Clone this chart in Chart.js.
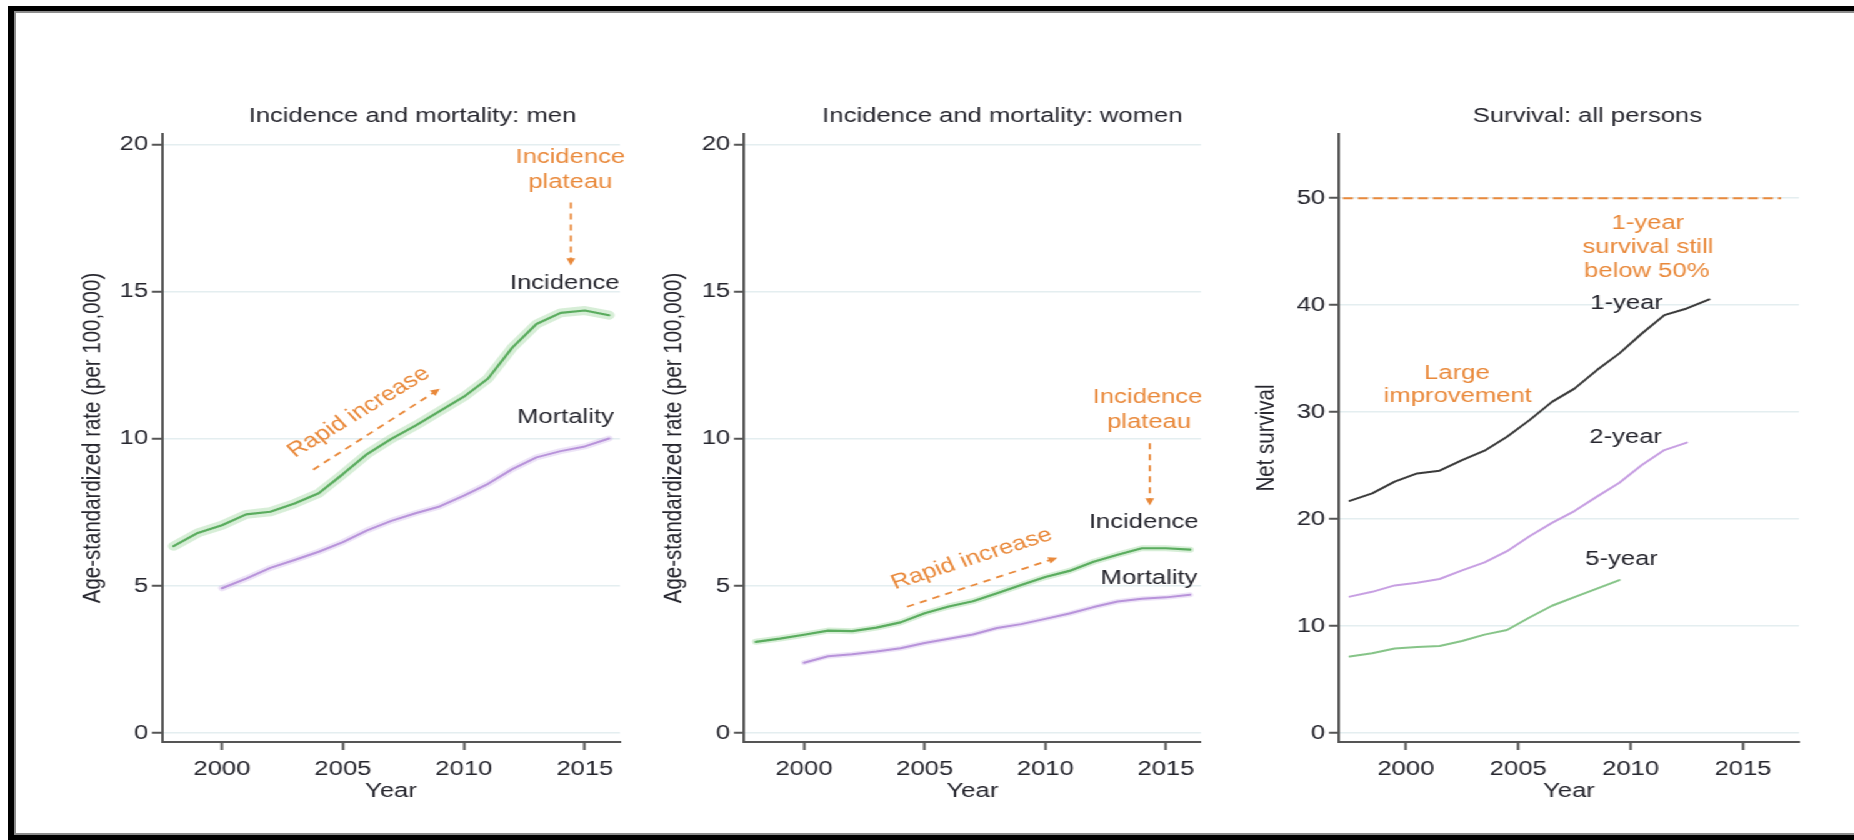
<!DOCTYPE html>
<html lang="fr">
<head>
<meta charset="utf-8">
<title>Incidence, mortalité et survie</title>
<script src="https://cdn.jsdelivr.net/npm/chart.js@4.4.1/dist/chart.umd.min.js"></script>
<style>
  html, body { margin: 0; padding: 0; background: #fff; overflow: hidden; }
  /* la figure d'origine est étirée horizontalement : on reproduit l'effet */
  #graphes { position: absolute; left: 0; top: 0; width: 1484px; height: 840px;
             transform: scaleX(1.25); transform-origin: 0 0; }
  #graphes canvas { position: absolute; top: 0; }
  #cadre { position: absolute; left: 8px; top: 6px; width: 1870px; height: 834px; box-sizing: border-box;
           border: 5px solid #000; border-left-width: 6px; box-shadow: inset 0 0 0 2px #8c8c8c; pointer-events: none; }
</style>
</head>
<body>
<div id="graphes">
  <canvas id="hommes" width="508" height="840" style="left:0px"></canvas>
  <canvas id="femmes" width="482" height="840" style="left:508px"></canvas>
  <canvas id="survie" width="494" height="840" style="left:990px"></canvas>
</div>
<div id="cadre"></div>
<script>
// Données
const anneesIncidence = [1998, 1999, 2000, 2001, 2002, 2003, 2004, 2005, 2006, 2007, 2008, 2009, 2010, 2011, 2012, 2013, 2014, 2015, 2016];
const anneesMortalite = [2000, 2001, 2002, 2003, 2004, 2005, 2006, 2007, 2008, 2009, 2010, 2011, 2012, 2013, 2014, 2015, 2016];
const incidenceHommes = [6.35, 6.8, 7.06, 7.43, 7.52, 7.8, 8.15, 8.8, 9.48, 10.0, 10.45, 10.94, 11.43, 12.05, 13.1, 13.9, 14.28, 14.36, 14.2];
const mortaliteHommes = [4.92, 5.25, 5.61, 5.88, 6.16, 6.49, 6.89, 7.21, 7.47, 7.7, 8.07, 8.47, 8.97, 9.37, 9.58, 9.74, 10.01];
const incidenceFemmes = [3.1, 3.21, 3.34, 3.48, 3.46, 3.58, 3.76, 4.07, 4.3, 4.48, 4.75, 5.03, 5.3, 5.51, 5.82, 6.06, 6.28, 6.28, 6.23];
const mortaliteFemmes = [2.39, 2.61, 2.68, 2.77, 2.88, 3.06, 3.2, 3.35, 3.57, 3.7, 3.88, 4.06, 4.28, 4.47, 4.56, 4.61, 4.7];

const anneesSurvie = [1997.5, 1998.5, 1999.5, 2000.5, 2001.5, 2002.5, 2003.5, 2004.5, 2005.5, 2006.5, 2007.5, 2008.5, 2009.5, 2010.5, 2011.5, 2012.5, 2013.5];
const survie1an = [21.7, 22.4, 23.5, 24.27, 24.52, 25.51, 26.39, 27.7, 29.25, 30.96, 32.2, 33.93, 35.49, 37.35, 39.07, 39.69, 40.53];
const survie2ans = [12.75, 13.2, 13.8, 14.05, 14.4, 15.2, 15.95, 17.0, 18.4, 19.65, 20.75, 22.1, 23.4, 25.05, 26.45, 27.15];
const survie5ans = [7.15, 7.45, 7.9, 8.05, 8.13, 8.6, 9.2, 9.63, 10.8, 11.9, 12.7, 13.5, 14.3];
const seuilAnnees = [1997.2, 2016.7];
const seuilValeurs = [50, 50];

const ticksAnnees = [2000, 2005, 2010, 2015];
const ticksTaux = [0, 5, 10, 15, 20];
const ticksSurvie = [0, 10, 20, 30, 40, 50];

// Couleurs
const vert = '#5aac5e';
const bandeVert = 'rgba(140, 205, 140, 0.35)';
const violet = '#b893da';
const bandeViolet = 'rgba(195, 165, 228, 0.3)';
const orange = '#e9893b';
const encre = '#26262e';

const police = '"Liberation Sans", Arial, sans-serif';
Chart.defaults.font.family = police;
Chart.defaults.font.size = 20.5;
Chart.defaults.color = encre;

function pts(xs, ys) {
  return ys.map((v, i) => ({ x: xs[i], y: v }));
}

function ligne(data, couleur, epaisseur, ordre, pointilles) {
  return {
    data: data,
    borderColor: couleur,
    borderWidth: epaisseur,
    borderDash: pointilles || [],
    order: ordre,
    pointRadius: 0,
    fill: false,
    tension: 0,
    borderJoinStyle: 'round',
    borderCapStyle: pointilles ? 'butt' : 'round'
  };
}

// Titres, étiquettes et flèches dessinés par-dessus le graphique
const notes = {
  id: 'notes',
  afterDraw(chart, args, opts) {
    const ctx = chart.ctx;
    const { x, y } = chart.scales;
    ctx.save();
    ctx.font = '20.5px ' + police;
    if (opts.titre) {
      ctx.fillStyle = encre;
      ctx.textAlign = 'center';
      ctx.textBaseline = 'alphabetic';
      ctx.fillText(opts.titre.texte, opts.titre.x, opts.titre.y);
    }
    (opts.fleches || []).forEach(f => {
      const x1 = x.getPixelForValue(f.de[0]), y1 = y.getPixelForValue(f.de[1]);
      const x2 = x.getPixelForValue(f.a[0]), y2 = y.getPixelForValue(f.a[1]);
      const ang = Math.atan2(y2 - y1, x2 - x1);
      ctx.strokeStyle = orange;
      ctx.fillStyle = orange;
      ctx.lineWidth = 1.8;
      ctx.setLineDash([6, 5]);
      ctx.beginPath();
      ctx.moveTo(x1, y1);
      ctx.lineTo(x2 - 6 * Math.cos(ang), y2 - 6 * Math.sin(ang));
      ctx.stroke();
      ctx.setLineDash([]);
      ctx.beginPath();
      ctx.moveTo(x2, y2);
      ctx.lineTo(x2 - 8 * Math.cos(ang - 0.45), y2 - 8 * Math.sin(ang - 0.45));
      ctx.lineTo(x2 - 8 * Math.cos(ang + 0.45), y2 - 8 * Math.sin(ang + 0.45));
      ctx.closePath();
      ctx.fill();
    });
    (opts.textes || []).forEach(t => {
      ctx.save();
      ctx.translate(x.getPixelForValue(t.a[0]), y.getPixelForValue(t.a[1]));
      if (t.rot) ctx.rotate(t.rot * Math.PI / 180);
      ctx.fillStyle = t.c || encre;
      ctx.textAlign = 'center';
      ctx.textBaseline = 'middle';
      ctx.fillText(t.t, 0, 0);
      ctx.restore();
    });
    ctx.restore();
  }
};

function axeX(min, max) {
  return {
    type: 'linear',
    min: min,
    max: max,
    afterBuildTicks: axis => { axis.ticks = ticksAnnees.map(v => ({ value: v })); },
    afterFit: axis => { axis.height = 98; },
    grid: { drawOnChartArea: false, tickLength: 8, tickColor: '#555', tickWidth: 2 },
    border: { color: '#555', width: 2 },
    ticks: { padding: 7, callback: v => String(v) },
    title: { display: true, text: 'Year', padding: { top: 0, bottom: 36 } }
  };
}

function axeY(min, max, valeurs, largeur, titre, decalage) {
  return {
    type: 'linear',
    min: min,
    max: max,
    afterBuildTicks: axis => { axis.ticks = valeurs.map(v => ({ value: v })); },
    afterFit: axis => { axis.width = largeur; },
    grid: { color: '#e4eef0', lineWidth: 1.5, tickLength: 8, tickColor: '#555', tickWidth: 2 },
    border: { color: '#555', width: 2 },
    ticks: { padding: 3, callback: v => String(v) },
    title: { display: true, text: titre, padding: { top: decalage, bottom: 0 } }
  };
}

function graphe(id, datasets, echelles, padDroite, optNotes) {
  return new Chart(document.getElementById(id), {
    type: 'line',
    data: { datasets: datasets },
    options: {
      responsive: false,
      animation: false,
      layout: { padding: { top: 134, right: padDroite, bottom: 0, left: 0 } },
      plugins: { legend: { display: false }, tooltip: { enabled: false }, notes: optNotes },
      scales: echelles
    },
    plugins: [notes]
  });
}

// Hommes
graphe('hommes', [
  ligne(pts(anneesIncidence, incidenceHommes), vert, 2.2, 1),
  ligne(pts(anneesMortalite, mortaliteHommes), violet, 2, 1),
  ligne(pts(anneesIncidence, incidenceHommes), bandeVert, 9, 2),
  ligne(pts(anneesMortalite, mortaliteHommes), bandeViolet, 6, 2)
], {
  x: axeX(1997.52, 2016.45),
  y: axeY(-0.306, 20.36, ticksTaux, 129.6, 'Age-standardized rate (per 100,000)', 62)
}, 12, {
  titre: { texte: 'Incidence and mortality: men', x: 330, y: 122 },
  textes: [
    { t: 'Incidence', a: [2014.4, 19.55], c: orange },
    { t: 'plateau', a: [2014.4, 18.72], c: orange },
    { t: 'Incidence', a: [2014.17, 15.3] },
    { t: 'Mortality', a: [2014.2, 10.74] },
    { t: 'Rapid increase', a: [2005.66, 10.9], c: orange, rot: -37 }
  ],
  fleches: [
    { de: [2014.42, 18.03], a: [2014.42, 15.89] },
    { de: [2003.77, 8.95], a: [2009.0, 11.7] }
  ]
});

// Femmes
graphe('femmes', [
  ligne(pts(anneesIncidence, incidenceFemmes), vert, 2.2, 1),
  ligne(pts(anneesMortalite, mortaliteFemmes), violet, 2, 1),
  ligne(pts(anneesIncidence, incidenceFemmes), bandeVert, 6, 2),
  ligne(pts(anneesMortalite, mortaliteFemmes), bandeViolet, 5, 2)
], {
  x: axeX(1997.51, 2016.45),
  y: axeY(-0.306, 20.36, ticksTaux, 87.2, 'Age-standardized rate (per 100,000)', 18.6)
}, 29.2, {
  titre: { texte: 'Incidence and mortality: women', x: 294, y: 122 },
  textes: [
    { t: 'Incidence', a: [2014.24, 11.42], c: orange },
    { t: 'plateau', a: [2014.3, 10.55], c: orange },
    { t: 'Incidence', a: [2014.08, 7.15] },
    { t: 'Mortality', a: [2014.3, 5.27] },
    { t: 'Rapid increase', a: [2006.95, 5.92], c: orange, rot: -21.5 }
  ],
  fleches: [
    { de: [2014.33, 9.85], a: [2014.33, 7.73] },
    { de: [2004.27, 4.29], a: [2010.5, 5.96] }
  ]
});

// Survie
graphe('survie', [
  ligne(pts(anneesSurvie, survie1an), '#3a3a3a', 2, 1),
  ligne(pts(anneesSurvie, survie2ans), '#c79fe2', 2, 1),
  ligne(pts(anneesSurvie, survie5ans), '#86c488', 2, 1),
  ligne(pts(seuilAnnees, seuilValeurs), orange, 2, 1, [8, 4])
], {
  x: axeX(1997.02, 2017.49),
  y: axeY(-0.84, 56.0, ticksSurvie, 81.2, 'Net survival', 11)
}, 44.8, {
  titre: { texte: 'Survival: all persons', x: 280, y: 122 },
  textes: [
    { t: '1-year', a: [2010.77, 47.66], c: orange },
    { t: 'survival still', a: [2010.77, 45.42], c: orange },
    { t: 'below 50%', a: [2010.72, 43.18], c: orange },
    { t: 'Large', a: [2002.27, 33.64], c: orange },
    { t: 'improvement', a: [2002.31, 31.5], c: orange },
    { t: '1-year', a: [2009.82, 40.19] },
    { t: '2-year', a: [2009.78, 27.66] },
    { t: '5-year', a: [2009.6, 16.26] }
  ]
});
</script>
</body>
</html>
